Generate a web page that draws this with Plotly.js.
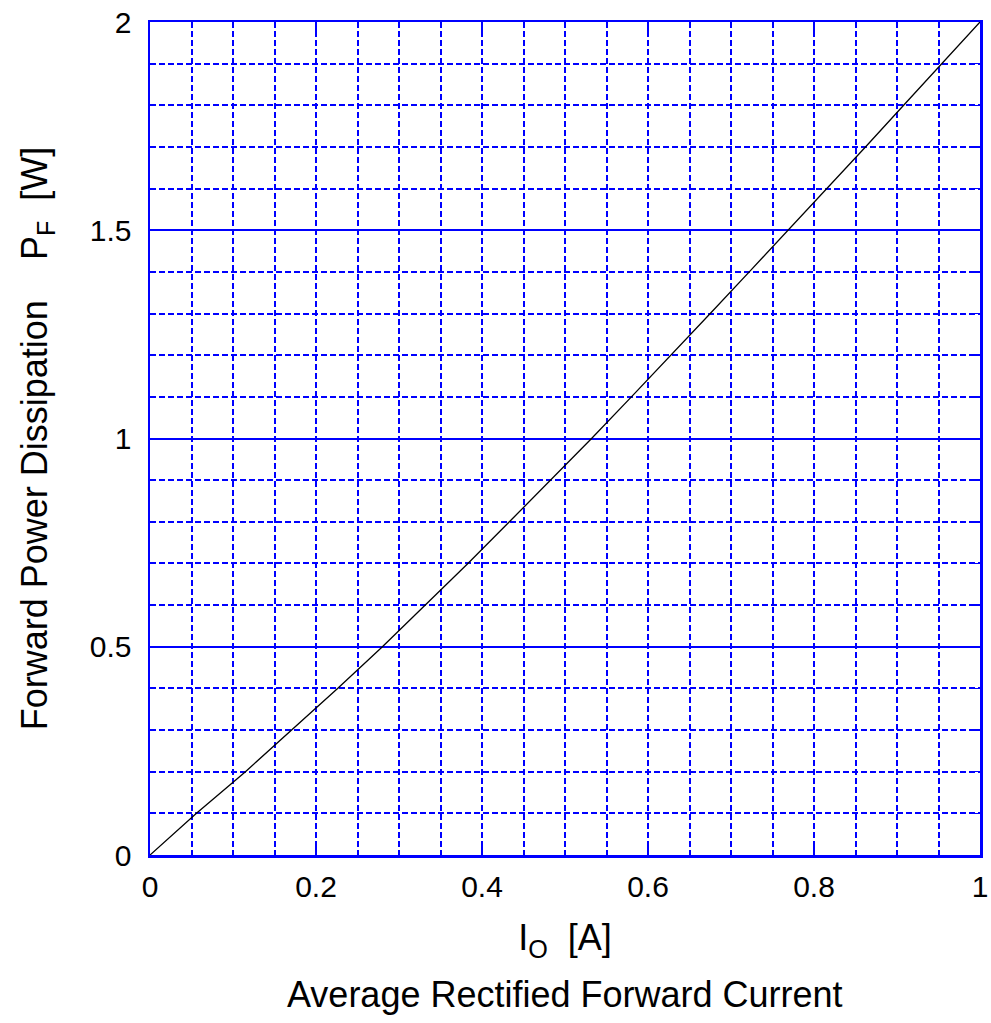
<!DOCTYPE html>
<html>
<head>
<meta charset="utf-8">
<script src="https://cdn.plot.ly/plotly-3.0.1.min.js"></script>
<style>
html,body{margin:0;padding:0;background:#fff;}
#chart{width:991px;height:1023px;}
</style>
</head>
<body>
<div id="chart"></div>
<script>
const currentIO = [0, 0.056, 0.115, 0.171, 0.226, 0.28, 0.332, 0.383, 0.433, 0.483, 0.532, 0.58, 0.628, 0.675, 0.722, 0.769, 0.816, 0.862, 0.908, 0.954, 1.0];
const powerPF   = [0, 0.1, 0.2, 0.3, 0.4, 0.5, 0.6, 0.7, 0.8, 0.9, 1.0, 1.1, 1.2, 1.3, 1.4, 1.5, 1.6, 1.7, 1.8, 1.9, 2.0];
const xTickVals = [0, 0.2, 0.4, 0.6, 0.8, 1];
const xTickText = ['0', '0.2', '0.4', '0.6', '0.8', '1'];
const yTickVals = [0, 0.5, 1, 1.5, 2];
const yTickText = ['0', '0.5', '1', '1.5', '2'];

const blue = '#0000ff';
const font = 'Arial, "Liberation Sans", sans-serif';
const dash = '6px,3px';

Plotly.newPlot('chart', [{
  x: currentIO, y: powerPF, type: 'scatter', mode: 'lines',
  line: {color: '#000', width: 1.3}, hoverinfo: 'skip'
}], {
  width: 991, height: 1023,
  margin: {l: 150, r: 11, t: 22, b: 168},
  paper_bgcolor: '#fff', plot_bgcolor: '#fff',
  showlegend: false,
  font: {family: font, color: '#000', size: 30},
  xaxis: {
    range: [0, 1], tickmode: 'array', tickvals: xTickVals, ticktext: xTickText,
    ticks: 'inside', ticklen: 9, tickcolor: blue, tickwidth: 2,
    showgrid: true, gridcolor: blue, gridwidth: 2, griddash: dash,
    showline: true, linecolor: blue, linewidth: 2.5, mirror: 'ticks',
    zeroline: false, ticklabelstandoff: 3,
    tickfont: {size: 30, family: font},
    minor: {dtick: 0.05, showgrid: true, gridcolor: blue, gridwidth: 2, griddash: dash,
            ticks: 'inside', ticklen: 5, tickcolor: blue, tickwidth: 1.5},
    title: {text: 'I<sub>O</sub>  [A]', font: {size: 36, family: font}, standoff: 24}
  },
  yaxis: {
    range: [0, 2], tickmode: 'array', tickvals: yTickVals, ticktext: yTickText,
    ticks: 'inside', ticklen: 9, tickcolor: blue, tickwidth: 2,
    showgrid: true, gridcolor: blue, gridwidth: 2,
    showline: true, linecolor: blue, linewidth: 2.5, mirror: 'ticks',
    zeroline: false, ticklabelstandoff: 10,
    tickfont: {size: 30, family: font},
    minor: {dtick: 0.1, showgrid: true, gridcolor: blue, gridwidth: 2, griddash: dash,
            ticks: 'inside', ticklen: 5, tickcolor: blue, tickwidth: 1.5},
    title: {text: 'Forward Power Dissipation    P<sub>F</sub>  [W]', font: {size: 36, family: font}, standoff: 31}
  },
  annotations: [{
    text: 'Average Rectified Forward Current', xref: 'paper', yref: 'paper',
    x: 0.5, y: -0.168, xanchor: 'center', yanchor: 'middle', showarrow: false,
    font: {size: 36, family: font, color: '#000'}
  }]
}, {staticPlot: true, displayModeBar: false});
</script>
</body>
</html>
